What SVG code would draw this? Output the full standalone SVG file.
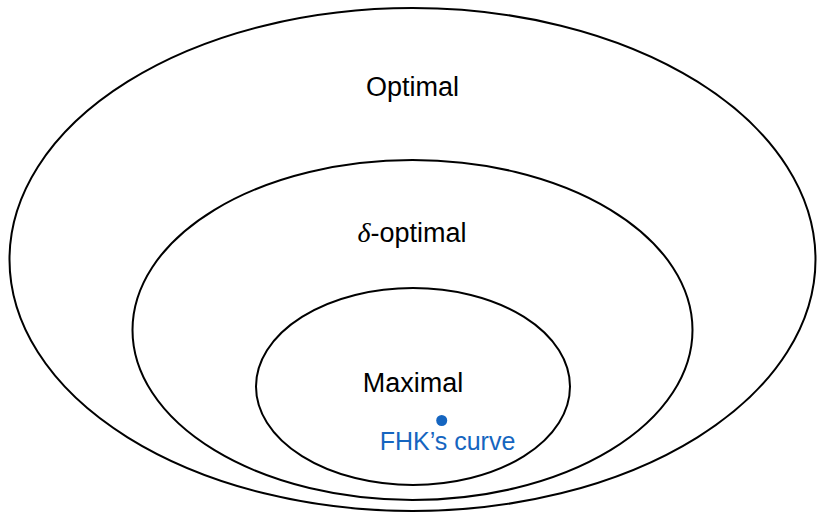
<svg xmlns="http://www.w3.org/2000/svg" width="817" height="513" viewBox="0 0 817 513">
  <style>
    .set { fill: none; stroke: #000; stroke-width: 2; }
    .lbl { font-family: "Liberation Sans", Arial, sans-serif; font-size: 27px; fill: #000; text-anchor: middle; }
    .math { font-family: "Liberation Serif", "Times New Roman", serif; font-style: italic; font-size: 28px; }
    .note { font-family: "Liberation Sans", Arial, sans-serif; font-size: 25px; fill: #1565c0; text-anchor: middle; }
  </style>
  <rect width="817" height="513" fill="#fff"/>

  <!-- nested sets, outermost first -->
  <g id="optimal">
    <ellipse class="set" cx="412.5" cy="259.5" rx="403" ry="251.5"/>
    <text class="lbl" x="412.5" y="96">Optimal</text>
  </g>
  <g id="delta-optimal">
    <ellipse class="set" cx="412.5" cy="330" rx="280" ry="170"/>
    <text class="lbl" x="412" y="241.5"><tspan class="math">δ</tspan>-optimal</text>
  </g>
  <g id="maximal">
    <ellipse class="set" cx="413" cy="386.5" rx="157" ry="98.5"/>
    <text class="lbl" x="413" y="392">Maximal</text>
  </g>

  <!-- marked point -->
  <g id="fhk-curve">
    <circle cx="441.7" cy="420.5" r="5.5" fill="#1565c0"/>
    <text class="note" x="447.5" y="449.5">FHK’s curve</text>
  </g>
</svg>
